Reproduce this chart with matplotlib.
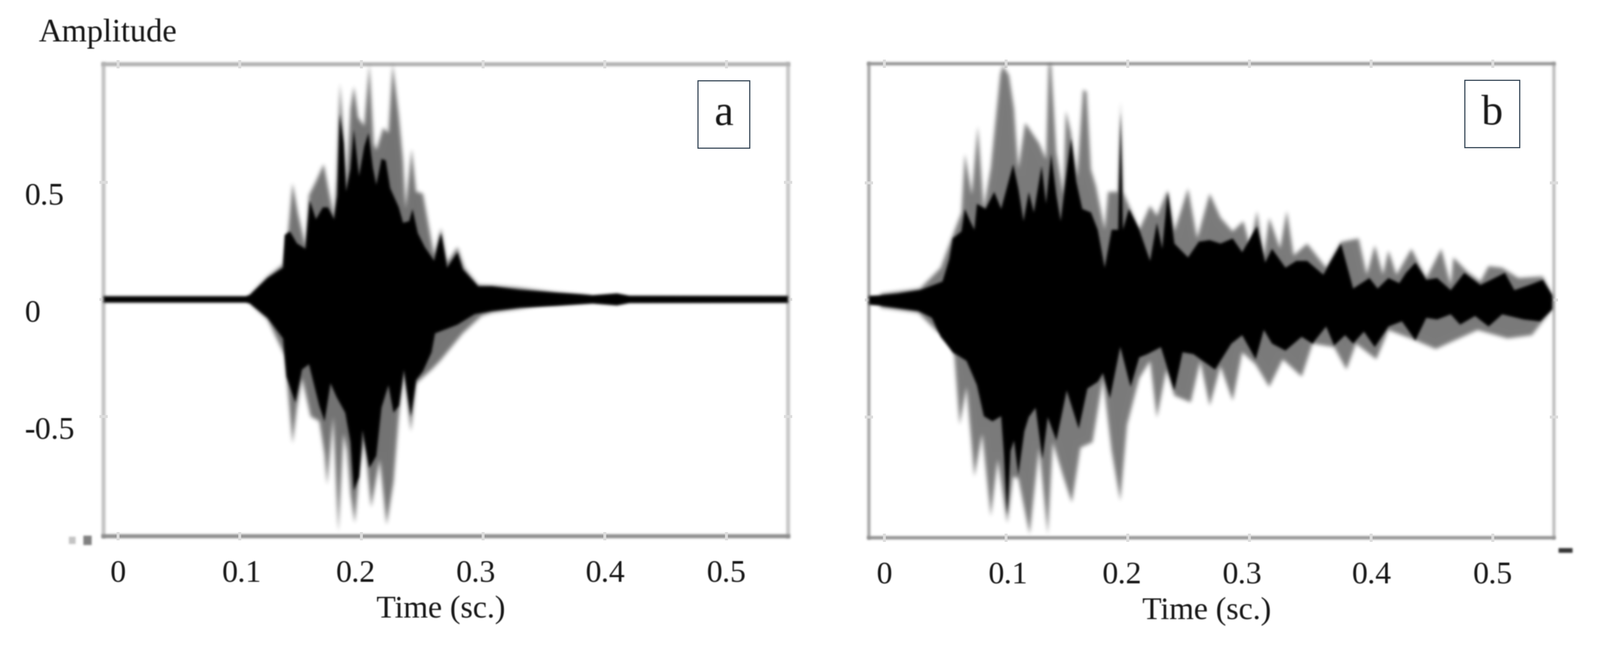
import numpy as np
import matplotlib
matplotlib.use("Agg")
import matplotlib.pyplot as plt
from matplotlib.patches import Rectangle
from matplotlib.transforms import ScaledTranslation

W, H = 3090, 1245
SERIF = "Liberation Serif"
FS = 44
INK = "#151515"

x_ticks = [0, 0.1, 0.2, 0.3, 0.4, 0.5]
x_tick_labels = ["0", "0.1", "0.2", "0.3", "0.4", "0.5"]
y_ticks = [-0.5, 0, 0.5]
y_tick_labels = ["-0.5", "0", "0.5"]
# the labels in the picture do not sit quite under their ticks (pixels)
x_label_shift = [0, 4, -11, -14, 1, 0]

# panel a, envelopes (seconds, amplitude)
a_top_t = [-.012, .105, .1087, .1229, .1356, .137, .1413, .147, .154, .1576, .1626, .1683, .1725, .1775, .1803,
           .1822, .1853, .1874, .191, .1938, .198, .2023, .2058, .2094, .2122, .2165, .22, .2236, .2307, .2342,
           .2392, .242, .2463, .252, .2597, .2654, .2704, .2789, .2832, .2959, .3073, .33, .36, .39, .41, .42, .551]
a_top = [.014, .014, .02, .091, .135, .275, .29, .239, .216, .423, .342, .393, .393, .342, .445,
         .792, .666, .46, .556, .725, .526, .652, .711, .563, .489, .6, .593, .475, .393, .327,
         .334, .386, .283, .224, .165, .283, .135, .2, .128, .055, .055, .04, .028, .018, .026, .016, .015]
a_top_faint_t = [.1087, .1229, .1356, .1399, .1434, .1477, .154, .1569, .1626, .169, .1725, .1775, .1796, .1824,
                 .1853, .1874, .191, .1938, .1973, .2023, .2065, .2101, .2122, .2179, .2222, .2257, .2307, .2342,
                 .2363, .2413, .2449, .2505, .2597, .2654, .2704, .2789, .2846, .2959, .3073, .33, .36, .39]
a_top_faint = [.02, .098, .15, .298, .497, .371, .224, .445, .504, .578, .482, .349, .519, .924,
               .703, .467, .814, .91, .777, .74, 1.005, .666, .637, .733, .71, 1.005, .784, .592,
               .386, .644, .46, .452, .187, .305, .157, .224, .135, .062, .06, .05, .03, .015]
a_bot_t = [-.012, .105, .1087, .1229, .1356, .1385, .1456, .1512, .1569, .1654, .1697, .1746, .1796, .1867, .191,
           .1938, .198, .2009, .2065, .2122, .2165, .2222, .2264, .2307, .2349, .2406, .2449, .2505, .2576, .2605,
           .2789, .293, .3073, .33, .36, .39, .41, .42, .551]
a_bot = [-.014, -.014, -.018, -.078, -.167, -.329, -.44, -.299, -.277, -.454, -.521, -.358, -.417, -.484, -.609,
         -.816, -.757, -.558, -.72, -.668, -.462, -.366, -.484, -.454, -.3, -.5, -.344, -.307, -.226, -.145,
         -.108, -.063, -.049, -.035, -.028, -.018, -.026, -.016, -.015]
a_bot_faint_t = [.1087, .1229, .137, .1434, .147, .1512, .1583, .1654, .1697, .1718, .1768, .181, .1853, .1881,
                 .191, .1945, .1987, .2023, .208, .215, .2207, .2264, .2307, .2349, .2406, .2449, .2576, .2647,
                 .2832, .2987, .3073, .33]
a_bot_faint = [-.018, -.086, -.24, -.616, -.462, -.336, -.5, -.52, -.661, -.793, -.5, -.993, -.572, -.646,
               -.83, -.956, -.72, -.594, -.889, -.683, -.963, -.779, -.5, -.31, -.565, -.359, -.3, -.262,
               -.145, -.07, -.056, -.04]

# panel b
b_top_t = [-.013, -.0034, .0108, .0292, .0477, .0533, .0562, .0633, .0661, .0704, .0739, .076, .0831, .0902, .0959,
           .1058, .11, .1143, .1186, .1228, .1292, .1328, .137, .1413, .1448, .1533, .1576, .1626, .1697, .1753,
           .181, .1867, .1921, .1941, .196, .2009, .2094, .2183, .2239, .2283, .2328, .2383, .2495, .2584, .2673,
           .2762, .2862, .294, .3062, .3129, .3185, .3296, .3385, .3474, .3607, .3752, .3852, .3986, .4053, .4142,
           .4231, .4286, .4364, .4453, .4542, .4654, .4765, .4898, .5099, .5177, .5299, .541, .5488]
b_top = [.018, .02, .027, .042, .079, .175, .263, .293, .389, .337, .3, .411, .389, .462, .389,
         .58, .477, .337, .462, .374, .573, .411, .625, .448, .337, .691, .507, .389, .374, .3,
         .138, .3, .3, .802, .3, .389, .3, .167, .33, .219, .462, .241, .182, .249, .256,
         .241, .263, .204, .315, .16, .219, .138, .167, .167, .108, .241, .049, .094, .049, .094,
         .072, .116, .16, .086, .094, .042, .116, .064, .116, .042, .064, .086, .02]
b_top_faint_t = [-.0034, .0292, .0462, .0562, .0633, .0661, .0718, .0767, .0817, .0874, .0952, .0973, .1023, .1065,
                 .11, .1157, .1214, .1271, .1328, .1349, .137, .1413, .147, .1491, .1533, .1583, .1633, .1661, .1697,
                 .1739, .181, .1838, .1921, .1941, .196, .2009, .2094, .2183, .2239, .2328, .2383, .2495, .257, .2673,
                 .2762, .2862, .295, .3007, .3062, .3118, .3162, .3251, .3307, .3363, .3474, .363, .3752, .3897, .3964,
                 .403, .4097, .4142, .4208, .4331, .4453, .4576, .4654, .4676, .4787, .4898, .4965, .5077, .521, .541,
                 .5488]
b_top_faint = [.027, .049, .138, .278, .374, .625, .448, .743, .389, .566, .964, 1.0, .96, .817,
               .558, .757, .713, .669, .6, 1.005, 1.005, .632, .448, .809, .713, .521, .898, .89, .558,
               .485, .3, .462, .462, .85, .462, .404, .3, .403, .359, .47, .293, .477, .263, .455,
               .352, .293, .337, .226, .381, .182, .352, .219, .381, .19, .241, .138, .248, .263, .108,
               .234, .108, .212, .108, .219, .094, .219, .064, .182, .123, .079, .145, .138, .094, .101,
               .02]
b_bot_t = [-.013, -.0034, .0278, .039, .0462, .0562, .0675, .076, .0817, .0888, .0959, .098, .1009, .1037, .1065,
           .11, .115, .1186, .1242, .1299, .1342, .1413, .1498, .1597, .1668, .1753, .1796, .1853, .1938, .2023,
           .2094, .2161, .2272, .2383, .245, .2539, .2717, .2851, .294, .3051, .3118, .3185, .3296, .3429, .3518,
           .363, .3696, .3786, .3852, .3941, .403, .4142, .4253, .4364, .4453, .4542, .4654, .4731, .4854, .4965,
           .5077, .5254, .5388, .5488]
b_bot = [-.02, -.024, -.046, -.076, -.157, -.223, -.26, -.363, -.496, -.518, -.496, -.644, -.917, -.644, -.6,
         -.747, -.56, -.5, -.46, -.68, -.5, -.6, -.386, -.55, -.378, -.349, -.312, -.42, -.2, -.371,
         -.245, -.231, -.201, -.386, -.223, -.231, -.297, -.186, -.15, -.253, -.127, -.186, -.216, -.157, -.186,
         -.113, -.194, -.15, -.186, -.135, -.201, -.113, -.091, -.172, -.076, -.083, -.061, -.105, -.068, -.113,
         -.061, -.083, -.091, -.039]
b_bot_faint_t = [-.0034, .0278, .0434, .0533, .0576, .0618, .0675, .0739, .0803, .0874, .0931, .1009, .1058, .11,
                 .1193, .1271, .1342, .1384, .147, .154, .1611, .171, .1796, .1867, .1938, .1994, .2094, .2183, .2239,
                 .2317, .2383, .2517, .2595, .2673, .2762, .2862, .294, .3051, .3162, .3274, .3429, .3518, .3696,
                 .3797, .3875, .4042, .4142, .4364, .4531, .4687, .4876, .5121, .5321, .5488]
b_bot_faint = [-.032, -.054, -.135, -.15, -.245, -.533, -.371, -.754, -.57, -.924, -.68, -.953, -.754, -.762,
               -1.0, -.63, -1.0, -.607, -.754, -.865, -.63, -.607, -.334, -.644, -.858, -.533, -.334, -.26, -.503,
               -.297, -.408, -.437, -.26, -.452, -.282, -.43, -.223, -.275, -.371, -.253, -.327, -.186, -.201,
               -.297, -.186, -.253, -.128, -.172, -.209, -.172, -.128, -.164, -.15, -.039]


def soft(sigma):
    # gaussian blur for agg_filter, the reference is a blurry scan
    radius = int(3 * sigma) + 1
    kernel = np.exp(-0.5 * (np.arange(-radius, radius + 1) / sigma) ** 2)
    kernel = kernel / kernel.sum()

    def blur(img, dpi):
        pad = radius + 2
        out = np.pad(img, ((pad, pad), (pad, pad), (0, 0)))
        alpha = out[..., 3:].copy()
        out[..., :3] = out[..., :3] * alpha
        for axis in (0, 1):
            total = np.zeros_like(out)
            for k, w in zip(range(-radius, radius + 1), kernel):
                total += w * np.roll(out, k, axis=axis)
            out = total
        out[..., :3] = out[..., :3] / np.maximum(out[..., 3:], 1e-3)
        return np.clip(out, 0, 1), -pad, -pad
    return blur


def fig_rect(left, top, right, bottom):
    return [left / W, 1 - bottom / H, (right - left) / W, (bottom - top) / H]


def envelope(ax, top_t, top, bot_t, bot, **kw):
    # one closed outline, upper side then lower side back
    return ax.fill(list(top_t) + list(bot_t)[::-1], list(top) + list(bot)[::-1], lw=0, **kw)[0]


def draw_panel(box, xlim, ylim, top_t, top, top_f_t, top_f, bot_t, bot, bot_f_t, bot_f, frame, frame_lw, faint):
    ax = fig.add_axes(fig_rect(*box))
    ax.set_xlim(*xlim)
    ax.set_ylim(*ylim)

    envelope(ax, top_f_t, top_f, bot_f_t, bot_f, color="#000000", alpha=faint, zorder=2).set_agg_filter(soft(4.0))
    envelope(ax, top_t, top, bot_t, bot, color="#000000", zorder=3).set_agg_filter(soft(2.6))

    for side, col in frame.items():
        ax.spines[side].set_color(col)
        ax.spines[side].set_linewidth(frame_lw)
        ax.spines[side].set_agg_filter(soft(1.5))
        ax.spines[side].set_zorder(1)

    ax.set_xticks(x_ticks)
    ax.set_xticklabels(x_tick_labels, family=SERIF, fontsize=FS, color=INK)
    ax.set_yticks(y_ticks)
    ax.set_yticklabels(y_tick_labels, family=SERIF, fontsize=FS, color=INK, va="top", ha="left")
    ax.tick_params(axis="x", direction="inout", length=11, width=4, color="#dcdcdc", top=True, pad=27)
    ax.tick_params(axis="y", direction="inout", length=11, width=4, color="#dcdcdc", right=True, pad=104)
    ax.set_xlabel("Time (sc.)", family=SERIF, fontsize=FS, color=INK, x=0.493, labelpad=10)
    for lab, dx in zip(ax.get_xticklabels(), x_label_shift):
        lab.set_transform(lab.get_transform() + ScaledTranslation(dx / 100, 0, fig.dpi_scale_trans))
    for lab in ax.get_xticklabels() + ax.get_yticklabels() + [ax.xaxis.label]:
        lab.set_agg_filter(soft(0.9))
    return ax


fig = plt.figure(figsize=(W / 100, H / 100), dpi=100, facecolor="white")

ax_a = draw_panel((200, 124, 1522, 1035), (-.0119, .5506), (-1.011, 1.004),
                  a_top_t, a_top, a_top_faint_t, a_top_faint, a_bot_t, a_bot, a_bot_faint_t, a_bot_faint,
                  {"top": "#b2b2b2", "bottom": "#8c8c8c", "left": "#c4c4c4", "right": "#c8c8c8"}, 5.5, 0.55)
ax_b = draw_panel((1678, 123, 3001, 1038), (-.0128, .5502), (-1.015, 1.009),
                  b_top_t, b_top, b_top_faint_t, b_top_faint, b_bot_t, b_bot, b_bot_faint_t, b_bot_faint,
                  {"top": "#959595", "bottom": "#8f8f8f", "left": "#a6a6a6", "right": "#bebebe"}, 4.5, 0.52)
ax_b.tick_params(axis="y", labelleft=False)

amp = fig.text(74 / W, 1 - 65 / H, "Amplitude", family=SERIF, fontsize=45, color=INK, ha="left", va="center")
amp.set_agg_filter(soft(0.9))

for (l, t, r, b), letter in (((1348, 156, 1448, 286), "a"), ((2829, 155, 2935, 285), "b")):
    x0, y0, w, h = fig_rect(l, t, r, b)
    fig.add_artist(Rectangle((x0, y0), w, h, transform=fig.transFigure, fc="white", ec="#3a4a5a", lw=1.6, zorder=5))
    tag = fig.text(x0 + w / 2, y0 + h / 2, letter, family=SERIF, fontsize=60, color=INK,
                   ha="center", va="center", zorder=6)
    tag.set_agg_filter(soft(0.9))

# scan specks outside the frames
for (l, t, r, b), col in (((133, 1036, 146, 1050), "#c4c4c4"), ((161, 1034, 177, 1052), "#808080"),
                          ((3010, 1058, 3037, 1067), "#333333")):
    x0, y0, w, h = fig_rect(l, t, r, b)
    speck = Rectangle((x0, y0), w, h, transform=fig.transFigure, fc=col, ec="none", zorder=1)
    speck.set_agg_filter(soft(2.0))
    fig.add_artist(speck)

fig.savefig("out.png", dpi=100, facecolor="white")
